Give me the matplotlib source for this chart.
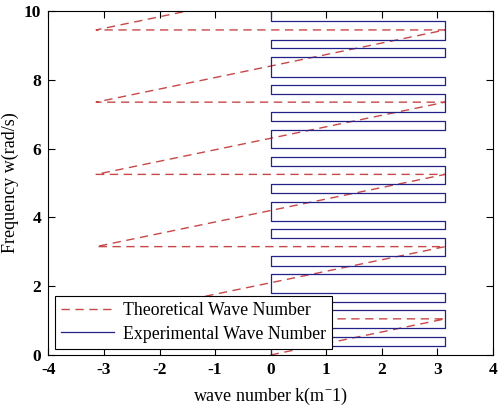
import numpy as np
import matplotlib
matplotlib.use("Agg")
import matplotlib.pyplot as plt

plt.rcParams['font.family'] = ['Liberation Serif', 'DejaVu Serif']
plt.rcParams['mathtext.fontset'] = 'custom'
plt.rcParams['mathtext.rm'] = 'Liberation Serif'
plt.rcParams['axes.unicode_minus'] = False

# theoretical wave number (wrapped to [-pi, pi]), vertices of the sawtooth
theo_k = [0.0, 3.1416, -3.1416, 3.1416, -3.1416, 3.1416, -3.1416, 3.1416, -3.1416, 3.1416, -3.1416, -1.50]
theo_w = [0.0, 1.05, 1.05, 3.15, 3.15, 5.25, 5.25, 7.35, 7.35, 9.45, 9.45, 10.0]

# experimental wave number jumps between 0 and pi at these frequencies
exp_jump_w = [0.25, 0.51, 0.78, 1.30, 1.55, 1.80, 2.35, 2.59, 2.87, 3.39, 3.65, 3.90,
              4.45, 4.70, 4.96, 5.49, 5.75, 6.01, 6.54, 6.80, 7.05, 7.58, 7.85, 8.09,
              8.67, 8.92, 9.17, 9.70]
exp_levels = [0.0, 3.1416]

exp_k = [exp_levels[0]]
exp_w = [0.0]
side = 0
for w in exp_jump_w:
    exp_k.append(exp_levels[side])
    exp_w.append(w)
    side = 1 - side
    exp_k.append(exp_levels[side])
    exp_w.append(w)
exp_k.append(exp_levels[side])
exp_w.append(10.0)

fig = plt.figure(figsize=(5.04, 4.08), dpi=100)
ax = fig.add_axes([0.096, 0.130, 0.882, 0.843])

ax.plot(theo_k, theo_w, '--', color='#c84848', lw=1.0, dashes=(6, 4),
        label='Theoretical Wave Number')
ax.plot(exp_k, exp_w, '-', color='#22228a', lw=0.9, label='Experimental Wave Number')

ax.set_xlim(-4, 4)
ax.set_ylim(0, 10)
ax.set_xticks(np.arange(-4, 5, 1))
ax.set_yticks(np.arange(0, 11, 2))
ax.tick_params(direction='in', top=True, right=True, labelsize=12.5, length=5, pad=5)
for lab in ax.get_xticklabels() + ax.get_yticklabels():
    lab.set_fontweight('bold')
for s in ax.spines.values():
    s.set_linewidth(0.8)

ax.set_xlabel(r'wave number k(m$^{-}$1)', fontsize=13, labelpad=6)
ax.set_ylabel('Frequency w(rad/s)', fontsize=13, labelpad=4)

leg = ax.legend(loc='lower left', fontsize=12.8, frameon=True, fancybox=False,
                framealpha=1, edgecolor='black', borderpad=0.35, labelspacing=0.35,
                handlelength=3.0, handletextpad=0.5, borderaxespad=0.35)
leg.get_frame().set_linewidth(0.8)

fig.savefig('out.png', dpi=100)
